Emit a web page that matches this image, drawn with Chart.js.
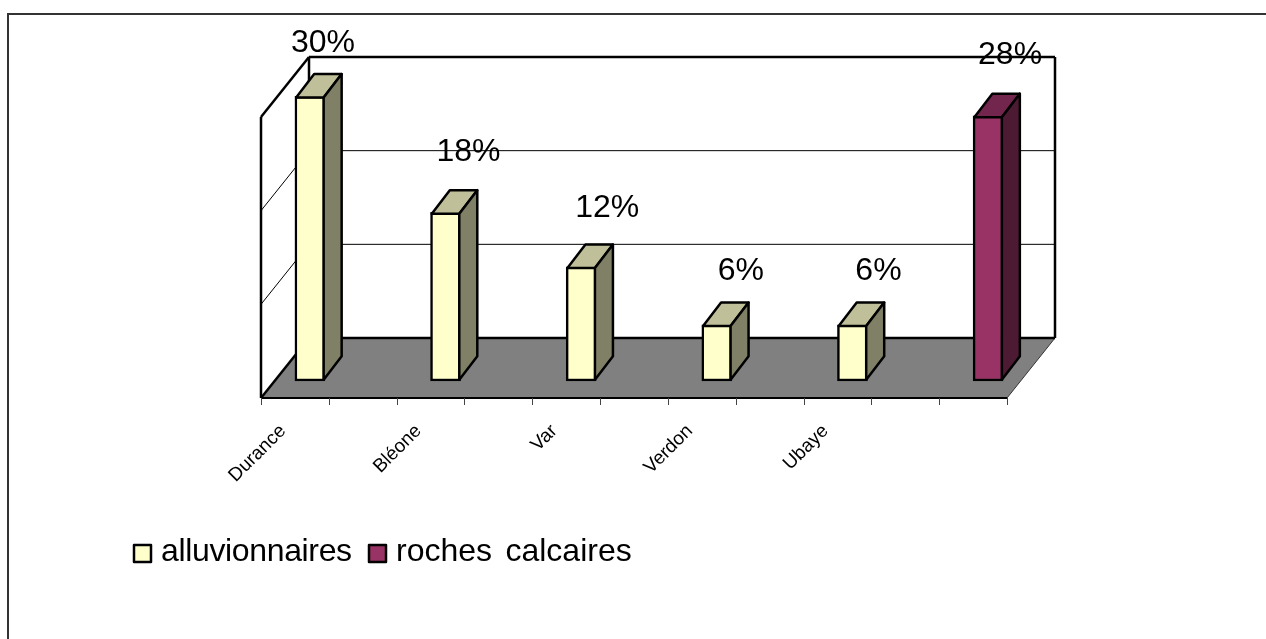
<!DOCTYPE html>
<html>
<head>
<meta charset="utf-8">
<style>
  html, body { margin: 0; padding: 0; background: #fff; }
  #wrap { width: 1266px; height: 639px; position: relative; }
</style>
<script src="https://cdn.jsdelivr.net/npm/chart.js"></script>
</head>
<body>
<div id="wrap"><canvas id="chart"></canvas></div>
<script>
  const categories = ['Durance', '', 'Bléone', '', 'Var', '', 'Verdon', '', 'Ubaye', '', ''];
  const alluvionnaires = [30.4, null, 18, null, 12.2, null, 6, null, 6, null, null];
  const rochesCalcaires = [null, null, null, null, null, null, null, null, null, null, 28.3];
  const gridValues = [10, 20];

  const FONT = '"Liberation Sans", Arial, sans-serif';
  // depth of the fake 3d box, relative to the plane the bars stand on
  const FLOOR_FRONT = { dx: -15, dy: 17 };
  const FLOOR_BACK = { dx: 33, dy: -43 };
  const BAR_DEPTH = { dx: 18, dy: -23.5 };
  const BAR_LINE = 2.5;
  // label nudges by bar index, excel placed them a bit unevenly
  const labelNudge = { 0: [13, -44], 2: [23, -51], 4: [26, -50], 6: [24, -45], 8: [26, -45], 10: [22, -52] };

  function poly(ctx, pts, fill, stroke, lw) {
    ctx.beginPath();
    pts.forEach((p, i) => i ? ctx.lineTo(p[0], p[1]) : ctx.moveTo(p[0], p[1]));
    ctx.closePath();
    if (fill) { ctx.fillStyle = fill; ctx.fill(); }
    if (stroke) { ctx.strokeStyle = stroke; ctx.lineWidth = lw; ctx.lineJoin = 'round'; ctx.stroke(); }
  }

  function line(ctx, x1, y1, x2, y2, lw, color) {
    ctx.beginPath();
    ctx.moveTo(x1, y1);
    ctx.lineTo(x2, y2);
    ctx.lineWidth = lw;
    ctx.strokeStyle = color || '#000';
    ctx.stroke();
  }

  const box3d = {
    id: 'box3d',
    beforeDatasetsDraw(chart) {
      const { ctx, chartArea: a, scales: { y } } = chart;
      const fl = a.left + FLOOR_FRONT.dx, fr = a.right + FLOOR_FRONT.dx, fb = a.bottom + FLOOR_FRONT.dy;
      const bl = a.left + FLOOR_BACK.dx, br = a.right + FLOOR_BACK.dx, bb = a.bottom + FLOOR_BACK.dy;
      const h = a.bottom - a.top;
      ctx.save();

      // outer frame, open on the right
      line(ctx, 7, 14, 1266, 14, 2, '#333');
      line(ctx, 8, 14, 8, 639, 2, '#333');

      // floor
      poly(ctx, [[fl, fb], [fr, fb], [br, bb], [bl, bb]], '#808080');
      line(ctx, fr, fb, br, bb, 1, '#333');

      // grid on back wall and left wall
      gridValues.forEach(v => {
        const gy = y.getPixelForValue(v);
        line(ctx, bl, gy + FLOOR_BACK.dy, br, gy + FLOOR_BACK.dy, 1);
        line(ctx, fl, gy + FLOOR_FRONT.dy, bl, gy + FLOOR_BACK.dy, 1);
      });

      // walls
      line(ctx, bl, bb, br, bb, 2.5);
      line(ctx, bl, bb - h, br, bb - h, 2.5);
      line(ctx, bl, bb, bl, bb - h, 2.5);
      line(ctx, br, bb, br, bb - h, 2.5);
      line(ctx, fl, fb, fl, fb - h, 2.5);
      line(ctx, fl, fb - h, bl, bb - h, 2.5);
      line(ctx, fl, fb, bl, bb, 2.5);
      line(ctx, fl, fb, fr, fb, 2);

      // axis ticks on slot boundaries
      const slot = (a.right - a.left) / categories.length;
      for (let i = 0; i <= categories.length; i++) {
        const tx = Math.round(fl + i * slot) + 0.5;
        line(ctx, tx, fb, tx, fb + 7, 1, '#444');
      }
      ctx.restore();
    },
    afterDatasetsDraw(chart) {
      const { ctx } = chart;
      const inset = BAR_LINE / 2;
      ctx.save();
      chart.data.datasets.forEach((ds, di) => {
        chart.getDatasetMeta(di).data.forEach((bar, i) => {
          if (ds.data[i] == null) return;
          const p = bar.getProps(['x', 'y', 'base', 'width']);
          const l = p.x - p.width / 2 + inset, r = p.x + p.width / 2 - inset, t = p.y + inset, b = p.base - inset;
          const { dx, dy } = BAR_DEPTH;
          poly(ctx, [[l, t], [r, t], [r + dx, t + dy], [l + dx, t + dy]], ds.topColor, '#000', BAR_LINE);
          poly(ctx, [[r, t], [r + dx, t + dy], [r + dx, b + dy], [r, b]], ds.sideColor, '#000', BAR_LINE);
        });
      });
      ctx.restore();
    },
    afterDraw(chart) {
      const { ctx } = chart;
      ctx.save();
      // data labels
      ctx.fillStyle = '#000';
      ctx.font = '32px ' + FONT;
      ctx.textAlign = 'center';
      ctx.textBaseline = 'alphabetic';
      chart.data.datasets.forEach((ds, di) => {
        chart.getDatasetMeta(di).data.forEach((bar, i) => {
          if (ds.data[i] == null) return;
          const n = labelNudge[i];
          ctx.fillText(Math.round(ds.data[i]) + '%', bar.x + n[0], bar.y + n[1]);
        });
      });
      // legend
      ctx.textAlign = 'left';
      ctx.wordSpacing = '4.5px';
      const legendX = [134, 369];
      const legendTrack = ['-0.35px', '0px'];
      chart.data.datasets.forEach((ds, di) => {
        const lx = legendX[di];
        poly(ctx, [[lx, 545], [lx + 17, 545], [lx + 17, 562], [lx, 562]], ds.backgroundColor, '#000', BAR_LINE);
        ctx.fillStyle = '#000';
        ctx.letterSpacing = legendTrack[di];
        ctx.fillText(ds.label, lx + 27, 561);
      });
      ctx.restore();
    }
  };

  new Chart(document.getElementById('chart'), {
    type: 'bar',
    data: {
      labels: categories,
      datasets: [
        { label: 'alluvionnaires', data: alluvionnaires, backgroundColor: '#FFFFCC', sideColor: '#808066', topColor: '#BFBF99', borderColor: '#000', borderWidth: BAR_LINE, borderSkipped: false, barThickness: 30, clip: false },
        { label: 'roches calcaires', data: rochesCalcaires, backgroundColor: '#993366', sideColor: '#4D1A33', topColor: '#73264D', borderColor: '#000', borderWidth: BAR_LINE, borderSkipped: false, barThickness: 30, clip: false }
      ]
    },
    options: {
      responsive: true,
      maintainAspectRatio: false,
      animation: false,
      layout: { padding: { left: 276, right: 244, top: 100, bottom: 0 } },
      plugins: { legend: { display: false }, tooltip: { enabled: false } },
      scales: {
        x: {
          stacked: true,
          grid: { display: false },
          border: { display: false },
          afterFit: s => { s.height = 258; },
          ticks: {
            autoSkip: false,
            minRotation: 45,
            maxRotation: 45,
            padding: 31,
            labelOffset: -27,
            color: '#000',
            font: { family: FONT, size: 19 }
          }
        },
        y: { stacked: true, display: false, min: 0, max: 30 }
      }
    },
    plugins: [box3d]
  });
</script>
</body>
</html>
